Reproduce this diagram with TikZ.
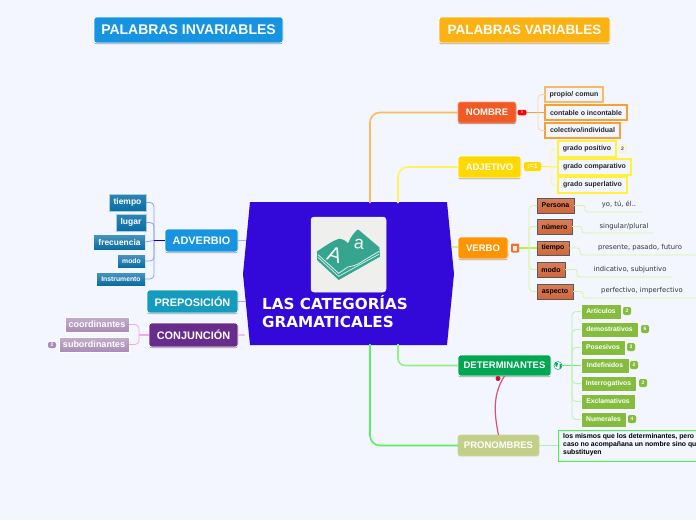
\documentclass[tikz,border=0pt]{standalone}
\usepackage{fontspec}
\setmainfont{Liberation Sans}
\newfontfamily\titlefont{DejaVu Sans}
\usetikzlibrary{calc}
\definecolor{bgc}{HTML}{F3F6FF}
\definecolor{centerc}{HTML}{3209D8}
\definecolor{teal}{HTML}{36A58F}
\definecolor{cblue}{RGB}{22,148,226}
\definecolor{camber}{RGB}{253,178,19}
\definecolor{cnombre}{RGB}{241,90,36}
\definecolor{cnombreb}{RGB}{245,150,120}
\definecolor{cadj}{RGB}{255,217,0}
\definecolor{cverbo}{RGB}{255,147,0}
\definecolor{cdet}{RGB}{0,166,81}
\definecolor{cpro}{RGB}{195,207,136}
\definecolor{cprob}{RGB}{205,215,155}
\definecolor{cprep}{RGB}{20,155,190}
\definecolor{cconj}{RGB}{104,45,140}
\definecolor{forange}{RGB}{250,185,100}
\definecolor{forangeb}{RGB}{248,160,50}
\definecolor{forangel}{RGB}{252,210,165}
\definecolor{fyel}{RGB}{255,242,60}
\definecolor{fyell}{RGB}{255,246,150}
\definecolor{brn}{HTML}{D2663A}
\definecolor{cvchip}{RGB}{250,110,50}
\definecolor{lime}{HTML}{D2F59A}
\definecolor{grn}{HTML}{84BC3E}
\definecolor{lgrn}{HTML}{B5F5A5}
\definecolor{pgreen}{RGB}{60,250,60}
\definecolor{rellink}{RGB}{215,85,110}
\definecolor{reldot}{RGB}{190,20,50}
\definecolor{bl}{HTML}{0A6EA6}
\definecolor{lbl}{HTML}{8AA0F8}
\definecolor{mv}{HTML}{A98BB5}
\definecolor{pk}{HTML}{F3A8EE}
\definecolor{iconbg}{RGB}{239,240,237}
\definecolor{lnombre}{RGB}{253,185,90}
\definecolor{ladj}{RGB}{255,243,90}
\definecolor{lverbo}{RGB}{205,245,130}
\definecolor{lvchip}{RGB}{185,245,60}
\definecolor{ldet}{RGB}{150,240,125}
\definecolor{lpro}{RGB}{90,240,90}
\definecolor{ldchip}{RGB}{105,240,105}
\definecolor{lpbox}{RGB}{165,245,165}
\definecolor{ladv}{RGB}{165,180,250}
\definecolor{lpre}{RGB}{190,150,245}
\definecolor{lcon}{RGB}{245,190,240}
\tikzset{
  x=1pt,y=-1pt,
  base/.style={inner sep=0pt,outer sep=0pt,align=center,font=\bfseries},
  shadowed/.style={preaction={fill=black!38,transform canvas={yshift=-1.2pt}}},
  mainbox/.style={base,rounded corners=2.5pt,draw=white,line width=.8pt,shadowed,text=white,font=\bfseries\fontsize{10.9}{12}\selectfont},
  rightbox/.style={mainbox,font=\bfseries\fontsize{9.5}{11}\selectfont},
  framed/.style={base,draw=#1,line width=1.05pt,fill=bgc,text=black!85,font=\bfseries\fontsize{7}{8}\selectfont},
  brownbox/.style={base,draw=black!65,line width=1pt,top color=#1!85,bottom color=#1,text=black,font=\bfseries\fontsize{7}{8}\selectfont},
  greenbox/.style={base,fill=#1,draw=white,line width=.8pt,shadowed,text=white,font=\bfseries\fontsize{6.8}{8}\selectfont},
  bluebox/.style={base,top color=#1!85!white,bottom color=#1,draw=#1!35!white,line width=.8pt,text=white,font=\bfseries\fontsize{8.5}{9}\selectfont},
  smallblue/.style={base,top color=#1!75!white,bottom color=#1,text=white,font=\bfseries\fontsize{6.8}{7}\selectfont},
  mauvebox/.style={base,top color=#1!70!white,bottom color=#1,draw=white,line width=.5pt,text=white,font=\bfseries\fontsize{9}{10}\selectfont},
  badge/.style={base,rounded corners=2pt,fill=#1,minimum width=8pt,minimum height=8pt,text=white,font=\bfseries\fontsize{5}{5}\selectfont},
  leaftext/.style={inner sep=0pt,text=black!80,font=\titlefont\fontsize{6.8}{8}\selectfont},
  link/.style={line width=1pt,draw=#1,rounded corners=4pt},
  thin link/.style={line width=.8pt,draw=#1,rounded corners=4pt},
}
% \bx{name}{x1}{y1}{x2}{y2}{style}{text}
\newcommand{\bx}[7]{\node[#6,minimum width={(#4)-(#2)},minimum height={(#5)-(#3)}] (#1) at ({((#2)+(#4))/2},{((#3)+(#5))/2}) {#7};}
\begin{document}
\begin{tikzpicture}
\useasboundingbox (0,0) rectangle (696,520);
\fill[bgc] (0,0) rectangle (696,520);

% headers
\bx{hinv}{94}{17}{283}{43}{mainbox,fill=cblue,font=\bfseries\fontsize{14}{15}\selectfont}{PALABRAS INVARIABLES}
\bx{hvar}{439}{17}{610}{43}{mainbox,fill=camber,font=\bfseries\fontsize{13.4}{14}\selectfont}{PALABRAS VARIABLES}

% centre
\fill[centerc] (250,202) -- (447,202) -- (454,274) -- (447,345) -- (250,345) -- (243,274) -- cycle;
\coordinate (cN) at (370,203);
\coordinate (cA) at (398,203);
\coordinate (cD) at (398,344);
\coordinate (cP) at (370,344);
\coordinate (cV) at (452,247);
\coordinate (cAdv) at (246,240);
\coordinate (cPre) at (245,301);
\coordinate (cCon) at (245,335);

% main boxes
\bx{nombre}{458}{102}{516}{123}{rightbox,fill=cnombre,draw=cnombreb}{NOMBRE}
\bx{adjetivo}{458}{156}{521}{178}{rightbox,fill=cadj}{ADJETIVO}
\bx{verbo}{458}{237}{508}{259}{rightbox,fill=cverbo}{VERBO}
\bx{deter}{458}{355}{551}{376}{rightbox,fill=cdet}{DETERMINANTES}
\bx{prono}{458}{435}{539}{456}{base,rounded corners=2.5pt,fill=cpro,draw=cprob,line width=.8pt,text=white,font=\bfseries\fontsize{9.5}{11}\selectfont}{PRONOMBRES}
\bx{adverbio}{165}{229}{238}{252}{mainbox,fill=cblue}{ADVERBIO}
\bx{prepo}{147}{290}{238}{313}{mainbox,fill=cprep}{PREPOSICIÓN}
\bx{conj}{149}{323}{238}{347}{mainbox,fill=cconj}{CONJUNCIÓN}

% centre connectors
\draw[link=lnombre,line width=1.6pt,rounded corners=10pt] (cN) |- (nombre.west);
\draw[link=ladj,line width=1.6pt,rounded corners=10pt] (cA) |- (adjetivo.west);
\draw[link=lverbo,line width=1.3pt] (cV) -- (verbo.west |- cV);
\draw[link=ldet,line width=1.6pt,rounded corners=7pt] (cD) |- (deter.west);
\draw[link=lpro,line width=1.6pt,rounded corners=10pt] (cP) |- (prono.west);
\draw[link=ladv] (adverbio.east |- cAdv) -- (cAdv);
\draw[link=lpre] (prepo.east |- cPre) -- (cPre);
\draw[link=lcon,line width=1.3pt] (conj.east |- cCon) -- (cCon);

% NOMBRE
\bx{n1}{545}{87}{603}{102}{framed=forange}{propio/ comun}
\bx{n2}{545}{105}{627}{120}{framed=forangeb}{contable o incontable}
\bx{n3}{545}{123}{620}{138}{framed=forangeb}{colectivo/individual}
\node[base,fill=red,rounded corners=2pt,minimum width=9pt,minimum height=5.5pt,text=white,font=\bfseries\fontsize{3.5}{4}\selectfont] (nchip) at (522,112.5) {0};
\draw[link=forangeb] (nchip.east) -- (n2.west);
\coordinate (ntr) at (538,112.5);
\draw[thin link=forangel] (n1.west) -| (ntr) |- (n3.west);

% ADJETIVO
\bx{a1}{558}{141}{616}{157}{framed=fyel}{grado positivo}
\bx{a2}{558}{159}{631}{175}{framed=fyel}{grado comparativo}
\bx{a3}{558}{177}{627}{193}{framed=fyel}{grado superlativo}
\node[base,fill=cadj,rounded corners=1.5pt,minimum width=17pt,minimum height=9pt,text=white,font=\bfseries\fontsize{7}{7}\selectfont] (achip) at (532.5,166.5) {:=1};
\node[badge=bgc,draw=fyell,line width=.7pt,text=black!70] (a1b) at (622.5,148.5) {2};
\draw[link=fyel] (achip.east) -- (a2.west);
\coordinate (atr) at (551,166.5);
\draw[thin link=fyell] (a1.west) -| (atr) |- (a3.west);

% VERBO
\bx{v1}{537}{198}{574}{213}{brownbox=brn}{Persona}
\bx{v2}{537}{219}{572}{234}{brownbox=brn}{número}
\bx{v3}{537}{241}{569}{255}{brownbox=brn}{tiempo}
\bx{v4}{537}{262}{565}{277}{brownbox=brn}{modo}
\bx{v5}{537}{284}{573}{299}{brownbox=brn}{aspecto}
\node[base,fill=cvchip,rounded corners=1pt,minimum width=8pt,minimum height=9pt] (vchip) at (515,248) {};
\fill[white!85!orange] (513,246) rectangle (517,250.5);
\draw[link=lvchip,line width=1.4pt] (vchip.east) -- (v3.west);
\coordinate (vtr) at (529,248);
\draw[thin link=lime] (v1.west) -| (vtr) |- (v5.west);
\draw[thin link=lime] (vtr) |- (v2.west);
\draw[thin link=lime] (vtr) |- (v4.west);
\coordinate (l1) at (642,212);
\coordinate (l2) at (653,233);
\coordinate (l3) at (696,255);
\coordinate (l4) at (672,277);
\coordinate (l5) at (696,298);
\draw[thin link=lime,rounded corners=2.5pt] (v1.east) -- (585,205.5) -- (585,212) -- (l1);
\draw[thin link=lime,rounded corners=2.5pt] (v2.east) -- (582,226.5) -- (582,233) -- (l2);
\draw[thin link=lime,rounded corners=2.5pt] (v3.east) -- (580,248) -- (580,255) -- (l3);
\draw[thin link=lime,rounded corners=2.5pt] (v4.east) -- (577,269.5) -- (577,277) -- (l4);
\draw[thin link=lime,rounded corners=2.5pt] (v5.east) -- (583,291.5) -- (583,298) -- (l5);
\node[leaftext] (t1) at (619,204.5) {yo, tú, él..};
\node[leaftext] (t2) at (624,226.5) {singular/plural};
\node[leaftext] (t3) at (640,247.5) {presente, pasado, futuro};
\node[leaftext] (t4) at (630,269.5) {indicativo, subjuntivo};
\node[leaftext] (t5) at (642,290.5) {perfectivo, imperfectivo};

% DETERMINANTES
\bx{d1}{581}{304}{621}{319}{greenbox=grn}{Artículos}
\bx{d2}{581}{322}{638}{337}{greenbox=grn}{demostrativos}
\bx{d3}{581}{340}{625}{355}{greenbox=grn}{Posesivos}
\bx{d4}{581}{358}{629}{373}{greenbox=grn}{Indefinidos}
\bx{d5}{581}{376}{636}{391}{greenbox=grn}{Interrogativos}
\bx{d6}{581}{394}{635}{409}{greenbox=grn}{Exclamativos}
\bx{d7}{581}{412}{626}{427}{greenbox=grn}{Numerales}
\node[badge=grn] (db1) at (627,311) {2};
\node[badge=grn] (db2) at (645,329) {6};
\node[badge=grn] (db3) at (631,347) {3};
\node[badge=grn] (db4) at (634,365) {2};
\node[badge=grn] (db5) at (643,383) {2};
\node[badge=grn] (db7) at (632,419) {4};
\node[base,circle,minimum size=8pt,fill=white,draw=cdet,line width=.5pt] (dglobe) at (558,365.5) {};
\fill[cdet] (555,362) -- (558,363) -- (557,367) -- (555.5,366) -- cycle (559.5,364) -- (561.5,364) -- (561,368) -- (559.5,369) -- cycle;
\draw[link=ldchip] (dglobe.east) -- (d4.west);
\coordinate (dtr) at (572,365.5);
\draw[thin link=lgrn] (d1.west) -| (dtr) |- (d7.west);
\draw[thin link=lgrn] (dtr) |- (d2.west);
\draw[thin link=lgrn] (dtr) |- (d3.west);
\draw[thin link=lgrn] (dtr) |- (d5.west);
\draw[thin link=lgrn] (dtr) |- (d6.west);

% PRONOMBRES
\node[base,draw=pgreen,line width=1pt,fill=bgc,minimum width=142pt,minimum height=31pt,anchor=north west] (pbox) at (558,430) {};
\node[inner sep=0pt,anchor=north west,align=left,text=black,font=\bfseries\fontsize{6.85}{8}\selectfont] (ptxt) at (563,433.5) {los mismos que los determinantes, pero\\caso no acompañana un nombre sino que\\substituyen};
\draw[link=lpbox,line width=1.2pt] (prono.east) -- (pbox.west |- prono.east);

% red relation
\draw[line width=1.2pt,draw=rellink] (prono.north) .. controls (494.5,415) and (492,395) .. (deter.south);
\fill[reldot] (498,378.5) circle (2.5pt);

% ADVERBIO
\bx{b1}{109}{194}{146}{211}{bluebox=bl}{tiempo}
\bx{b2}{116}{214}{146}{231}{bluebox=bl}{lugar}
\bx{b3}{94}{235}{145}{249}{smallblue=bl,font=\bfseries\fontsize{8.4}{9}\selectfont}{frecuencia}
\bx{b4}{118}{255}{145}{267}{smallblue=bl}{modo}
\bx{b5}{97}{273}{145}{285}{smallblue=bl}{Instrumento}
\coordinate (btr) at (154,240.5);
\draw[thin link=lbl] (b1.east) -| (btr) |- (b5.east);
\draw[thin link=lbl] (btr) |- (b2.east);
\draw[thin link=lbl] (btr) |- (b4.east);
\draw[thin link=lbl] (b3.east) -- (btr);
\draw[link=blue!80!black,line width=.9pt] (btr) -- (adverbio.west |- btr);

% CONJUNCION
\bx{c1}{65}{317}{129}{332}{mauvebox=mv}{coordinantes}
\bx{c2}{59}{337}{129}{352}{mauvebox=mv}{subordinantes}
\node[badge=mv,minimum width=8pt,minimum height=6pt] (cb2) at (52,345) {2};
\coordinate (ctr) at (139,335);
\draw[thin link=pk] (c1.east) -| (ctr) |- (c2.east);
\draw[link=pk,line width=1.2pt] (ctr) -- (conj.west |- ctr);

% icon
\node[base,fill=iconbg,draw=black!8,line width=.5pt,rounded corners=3pt,minimum width=75pt,minimum height=75pt] (icon) at (348.5,254.5) {};
\begin{scope}[shift={(308,214)},x=0.3333pt,y=-0.3333pt]
\fill[teal] (27,112) .. controls (50,98) and (72,80) .. (95,74) .. controls (105,74) and (112,80) .. (120,88) .. controls (128,70) and (138,55) .. (150,46)
 -- (214,100) -- (216,128) -- (92,198) -- (27,138) -- cycle;
\draw[white!85!teal,line width=.8pt] (30,122) -- (92,178) -- (118,160) .. controls (125,156) and (135,158) .. (150,150) -- (213,112);
\draw[white!85!teal,line width=.7pt] (30,130) -- (92,187) -- (214,120);
\node[white!95!teal,font=\fontsize{21}{21}\selectfont,rotate=-18,inner sep=0pt] (iA) at (80,122) {A};
\node[white!95!teal,font=\fontsize{18}{18}\selectfont,rotate=-5,inner sep=0pt] (ia) at (153,90) {a};
\end{scope}

% title
\node[anchor=west,inner sep=0pt,align=left,text=white,font=\titlefont\bfseries\fontsize{15.2}{18}\selectfont] (title) at (262,312) {LAS CATEGORÍAS\\GRAMATICALES};
\end{tikzpicture}
\end{document}
